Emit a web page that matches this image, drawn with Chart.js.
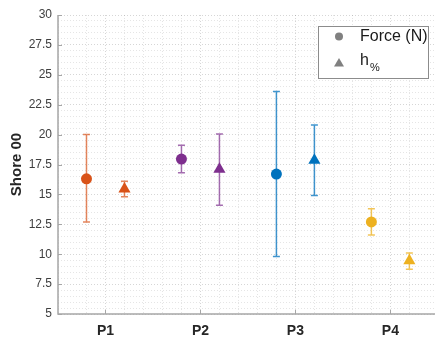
<!DOCTYPE html>
<html lang="en">
<head>
  <meta charset="UTF-8" />
  <title>Shore 00</title>
  <script src="https://cdn.jsdelivr.net/npm/chart.js@4"></script>
  <style>
    html, body {
      margin: 0;
      padding: 0;
      background: #fff;
    }
    .chart-box {
      width: 435px;
      height: 340px;
    }
  </style>
</head>
<body>
  <div class="chart-box">
    <canvas id="shoreChart" width="435" height="340"></canvas>
  </div>
  <script>
    // values
    const categories = ['P1', 'P2', 'P3', 'P4'];
    const forceMean = [16.3, 17.95, 16.7, 12.7];
    const forceLow  = [12.7, 16.8, 9.8, 11.6];
    const forceHigh = [20.0, 19.1, 23.6, 13.8];
    const hMean = [15.45, 17.1, 17.85, 9.45];
    const hLow  = [14.8, 14.1, 14.9, 8.75];
    const hHigh = [16.1, 20.05, 20.8, 10.1];
    const seriesNames = ['Force (N)', 'h'];
    const colors = ['#D95319', '#7E2F8E', '#0072BD', '#EDB120'];
    const barColors = ['rgba(217,83,25,0.7)', 'rgba(126,47,142,0.7)', 'rgba(0,114,189,0.75)', 'rgba(237,177,32,0.75)'];

    const FONT = "'Liberation Sans', Arial, sans-serif";
    const shift = 0.2;

    const forcePts = forceMean.map((v, i) => ({ x: i + 1 - shift, y: v, lo: forceLow[i], hi: forceHigh[i] }));
    const hPts = hMean.map((v, i) => ({ x: i + 1 + shift, y: v, lo: hLow[i], hi: hHigh[i] }));

    const isWhole = (v, step) => Math.abs(v / step - Math.round(v / step)) < 1e-6;

    // error bars, axis lines, inner tick marks and the legend box
    const extras = {
      id: 'extras',
      beforeDatasetsDraw(chart) {
        const ctx = chart.ctx;
        const xs = chart.scales.x, ys = chart.scales.y;
        ctx.save();
        ctx.lineWidth = 1.5;
        chart.data.datasets.forEach(ds => {
          ds.data.forEach((p, i) => {
            const x = xs.getPixelForValue(p.x);
            const y1 = ys.getPixelForValue(p.hi);
            const y2 = ys.getPixelForValue(p.lo);
            ctx.strokeStyle = barColors[i];
            ctx.beginPath();
            ctx.moveTo(x, y1); ctx.lineTo(x, y2);
            ctx.moveTo(x - 3.5, y1); ctx.lineTo(x + 3.5, y1);
            ctx.moveTo(x - 3.5, y2); ctx.lineTo(x + 3.5, y2);
            ctx.stroke();
          });
        });
        ctx.restore();
      },
      afterDraw(chart) {
        const ctx = chart.ctx;
        const a = chart.chartArea;
        const xs = chart.scales.x, ys = chart.scales.y;
        ctx.save();
        // axes
        ctx.strokeStyle = '#a6a6a6';
        ctx.lineWidth = 1.5;
        ctx.beginPath();
        ctx.moveTo(a.left, a.top); ctx.lineTo(a.left, a.bottom); ctx.lineTo(a.right, a.bottom);
        ctx.stroke();
        ctx.lineWidth = 1;
        ctx.beginPath();
        categories.forEach((c, i) => {
          const x = Math.round(xs.getPixelForValue(i + 1)) + 0.5;
          ctx.moveTo(x, a.bottom); ctx.lineTo(x, a.bottom - 4);
        });
        ys.ticks.forEach(t => {
          if (!isWhole(t.value, 2.5)) return;
          const y = Math.round(ys.getPixelForValue(t.value)) + 0.5;
          ctx.moveTo(a.left, y); ctx.lineTo(a.left + 4, y);
        });
        ctx.stroke();

        // legend
        const bx = a.right - 117, by = a.top + 11, bw = 110, bh = 52;
        ctx.fillStyle = '#fff';
        ctx.fillRect(bx, by, bw, bh);
        ctx.strokeStyle = '#8c8c8c';
        ctx.lineWidth = 1;
        ctx.strokeRect(bx + 0.5, by + 0.5, bw, bh);
        ctx.fillStyle = '#808080';
        ctx.beginPath();
        ctx.arc(bx + 21, by + 10.5, 4, 0, Math.PI * 2);
        ctx.fill();
        const tx = bx + 21, ty = by + 37;
        ctx.beginPath();
        ctx.moveTo(tx, ty - 5); ctx.lineTo(tx + 5, ty + 3.5); ctx.lineTo(tx - 5, ty + 3.5);
        ctx.closePath();
        ctx.fill();
        ctx.fillStyle = '#1a1a1a';
        ctx.textBaseline = 'middle';
        ctx.textAlign = 'left';
        ctx.font = '16px ' + FONT;
        ctx.fillText(seriesNames[0], bx + 42, by + 11);
        ctx.fillText(seriesNames[1], bx + 42, by + 35);
        const hw = ctx.measureText(seriesNames[1]).width;
        ctx.font = '11px ' + FONT;
        ctx.fillText('%', bx + 42 + hw + 1, by + 42);
        ctx.restore();
      }
    };

    new Chart(document.getElementById('shoreChart'), {
      type: 'scatter',
      data: {
        datasets: [
          {
            label: seriesNames[0],
            data: forcePts,
            pointStyle: 'circle',
            pointRadius: 5.5,
            backgroundColor: colors,
            borderColor: colors,
            pointBorderWidth: 0
          },
          {
            label: seriesNames[1],
            data: hPts,
            pointStyle: 'triangle',
            pointRadius: 7,
            backgroundColor: colors,
            borderColor: colors,
            pointBorderWidth: 0
          }
        ]
      },
      options: {
        responsive: false,
        animation: false,
        events: [],
        layout: { autoPadding: false, padding: { top: 15, right: 0, left: 0, bottom: 0 } },
        plugins: {
          legend: { display: false },
          tooltip: { enabled: false }
        },
        scales: {
          x: {
            type: 'linear',
            min: 0.5,
            max: 4.47,
            afterFit(s) {
              s.height = 26;
              s.paddingLeft = 0;
              s.paddingRight = 0;
            },
            border: { display: false, dash: [1, 2] },
            grid: {
              drawTicks: false,
              color: c => isWhole(c.tick.value, 1) ? 'rgba(0,0,0,0.16)' : 'rgba(0,0,0,0.1)',
              lineWidth: 1
            },
            ticks: {
              stepSize: 0.2,
              autoSkip: false,
              maxRotation: 0,
              padding: 9,
              color: '#262626',
              font: { family: FONT, size: 14, weight: 'bold' },
              callback: v => isWhole(v, 1) && v >= 1 && v <= categories.length ? categories[Math.round(v) - 1] : ''
            }
          },
          y: {
            min: 5,
            max: 30,
            afterFit(s) { s.width = 58; },
            border: { display: false, dash: [1, 2] },
            grid: {
              drawTicks: false,
              color: c => isWhole(c.tick.value, 2.5) ? 'rgba(0,0,0,0.16)' : 'rgba(0,0,0,0.1)',
              lineWidth: 1
            },
            title: {
              display: true,
              text: 'Shore 00',
              color: '#262626',
              font: { family: FONT, size: 15, weight: 'bold' },
              padding: { top: 8, bottom: 0 }
            },
            ticks: {
              stepSize: 0.5,
              autoSkip: false,
              padding: 6,
              color: '#404040',
              font: { family: FONT, size: 12 },
              callback: v => isWhole(v, 2.5) ? String(v) : ''
            }
          }
        }
      },
      plugins: [extras]
    });
  </script>
</body>
</html>
